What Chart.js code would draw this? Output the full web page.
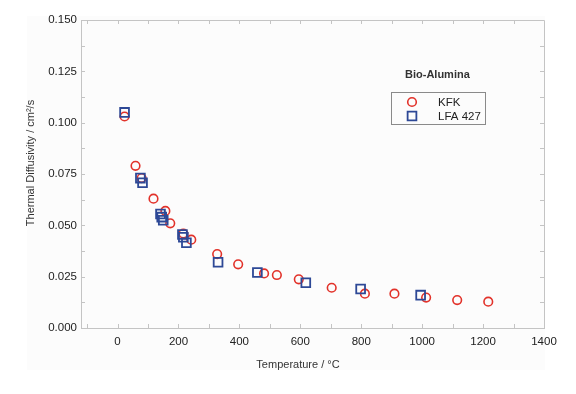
<!DOCTYPE html>
<html>
<head>
<meta charset="utf-8">
<script src="https://cdn.jsdelivr.net/npm/chart.js@4"></script>
<style>
  html, body { margin: 0; padding: 0; background: #fff; }
  canvas { display: block; }
</style>
</head>
<body>
<canvas id="chart" width="576" height="394"></canvas>
<script>
// data
var kfkTemp = [23, 59, 79, 118, 157, 173, 216, 242, 327, 396, 481, 523, 595, 703, 812, 909, 1013, 1115, 1217];
var kfkDiff = [0.103, 0.079, 0.073, 0.063, 0.057, 0.051, 0.046, 0.043, 0.036, 0.031, 0.0266, 0.0258, 0.0237, 0.0196, 0.0167, 0.0167, 0.0148, 0.0136, 0.0128];

var lfaTemp = [23, 75, 82, 141, 145, 150, 213, 216, 226, 330, 459, 618, 798, 995];
var lfaDiff = [0.105, 0.073, 0.0707, 0.0555, 0.054, 0.0525, 0.0455, 0.0442, 0.0415, 0.032, 0.027, 0.022, 0.019, 0.016];

var xTicks = [0, 200, 400, 600, 800, 1000, 1200, 1400];
var yTicks = [0, 0.025, 0.05, 0.075, 0.1, 0.125, 0.15];

var seriesNames = ['KFK', 'LFA 427'];
var legendTitle = 'Bio-Alumina';
var xTitle = 'Temperature / °C';
var yTitle = 'Thermal Diffusivity / cm²/s';

var FONT = "'Liberation Sans', Arial, Helvetica, sans-serif";
var AXIS = '#c4c4c4';
var RED = '#e2322a';
var BLUE = '#2d4896';

function toPoints(xs, ys) {
    return xs.map((x, i) => ({ x: x, y: ys[i] }));
}

// very light panel behind the plot, like the exported figure
var panelPlugin = {
    id: 'panel',
    beforeDraw(chart) {
        var ctx = chart.ctx;
        ctx.save();
        ctx.fillStyle = '#ffffff';
        ctx.fillRect(0, 0, chart.width, chart.height);
        ctx.fillStyle = '#fcfcfc';
        ctx.fillRect(27, 16, 518, 354);
        ctx.restore();
    }
};

// box + inward major/minor ticks on all four sides
var frameTicks = {
    id: 'frameTicks',
    beforeDatasetsDraw(chart) {
        var ctx = chart.ctx, a = chart.chartArea;
        var xs = chart.scales.x, ys = chart.scales.y;
        var len = 4;
        ctx.save();
        ctx.strokeStyle = AXIS;
        ctx.lineWidth = 1;
        ctx.beginPath();
        ctx.moveTo(a.left + 0.5, a.top + 0.5);
        ctx.lineTo(a.right + 0.5, a.top + 0.5);
        ctx.lineTo(a.right + 0.5, a.bottom + 0.5);
        ctx.lineTo(a.left + 0.5, a.bottom + 0.5);
        ctx.closePath();
        ctx.stroke();

        ctx.beginPath();
        for (var v = -100; v <= 1400; v += 100) {
            var px = Math.round(xs.getPixelForValue(v)) + 0.5;
            if (px <= a.left + 1 || px >= a.right - 1) continue;
            ctx.moveTo(px, a.bottom);
            ctx.lineTo(px, a.bottom - len);
            ctx.moveTo(px, a.top);
            ctx.lineTo(px, a.top + len);
        }
        for (var k = 1; k < 12; k++) {
            var py = Math.round(ys.getPixelForValue(k * 0.0125)) + 0.5;
            ctx.moveTo(a.left, py);
            ctx.lineTo(a.left + len, py);
            ctx.moveTo(a.right, py);
            ctx.lineTo(a.right - len, py);
        }
        ctx.stroke();
        ctx.restore();
    }
};

// axis titles placed where the reference has them
var axisTitles = {
    id: 'axisTitles',
    afterDraw(chart) {
        var ctx = chart.ctx;
        ctx.save();
        ctx.fillStyle = '#333';
        ctx.font = '11px ' + FONT;
        ctx.textAlign = 'center';
        ctx.textBaseline = 'middle';
        ctx.fillText(xTitle, 298, 365);
        ctx.translate(31, 163);
        ctx.rotate(-Math.PI / 2);
        ctx.fillText(yTitle, 0, 0);
        ctx.restore();
    }
};

// boxed legend with a bold heading above it
var boxLegend = {
    id: 'boxLegend',
    afterDraw(chart) {
        var ctx = chart.ctx;
        ctx.save();
        ctx.fillStyle = '#333';
        ctx.font = 'bold 11px ' + FONT;
        ctx.textAlign = 'left';
        ctx.textBaseline = 'middle';
        ctx.fillText(legendTitle, 405, 75);

        ctx.strokeStyle = '#8a8a8a';
        ctx.lineWidth = 1;
        ctx.strokeRect(391.5, 92.5, 94, 32);

        ctx.font = '11.5px ' + FONT;
        chart.data.datasets.forEach((ds, i) => {
            var y = 102 + i * 14;
            ctx.fillStyle = 'rgba(0,0,0,0)';
            ctx.strokeStyle = ds.borderColor;
            ctx.lineWidth = ds.borderWidth;
            Chart.helpers.drawPoint(ctx, {
                pointStyle: ds.pointStyle,
                radius: ds.pointRadius,
                borderWidth: ds.borderWidth,
                rotation: 0
            }, 412, y);
            ctx.fillStyle = '#222';
            ctx.fillText(ds.label, 438, y + 0.5);
        });
        ctx.restore();
    }
};

var ctx = document.getElementById('chart').getContext('2d');

new Chart(ctx, {
    type: 'scatter',
    data: {
        datasets: [{
            label: seriesNames[0],
            data: toPoints(kfkTemp, kfkDiff),
            pointStyle: 'circle',
            pointRadius: 4.3,
            borderWidth: 1.6,
            borderColor: RED,
            backgroundColor: 'rgba(0,0,0,0)',
            order: 1
        }, {
            label: seriesNames[1],
            data: toPoints(lfaTemp, lfaDiff),
            pointStyle: 'rect',
            pointRadius: 6.2,
            borderWidth: 1.8,
            borderColor: BLUE,
            backgroundColor: 'rgba(0,0,0,0)',
            order: 0
        }]
    },
    options: {
        responsive: false,
        animation: false,
        devicePixelRatio: 1,
        layout: {
            padding: { left: 0, right: 32, top: 20, bottom: 0 }
        },
        plugins: {
            legend: { display: false },
            tooltip: { enabled: false }
        },
        scales: {
            x: {
                type: 'linear',
                min: -120,
                max: 1400,
                afterBuildTicks: function (scale) {
                    scale.ticks = xTicks.map(v => ({ value: v }));
                },
                afterFit: function (scale) {
                    scale.height = 66;
                },
                grid: { display: false, drawTicks: false },
                border: { display: true, color: AXIS, width: 1 },
                ticks: {
                    padding: 7,
                    color: '#222',
                    font: { family: FONT, size: 11.5 },
                    maxRotation: 0,
                    callback: function (value) {
                        return String(value);
                    }
                },
                title: { display: false }
            },
            y: {
                type: 'linear',
                min: 0,
                max: 0.15,
                afterBuildTicks: function (scale) {
                    scale.ticks = yTicks.map(v => ({ value: v }));
                },
                afterFit: function (scale) {
                    scale.width = 81;
                },
                grid: { display: false, drawTicks: false },
                border: { display: true, color: AXIS, width: 1 },
                ticks: {
                    padding: 4,
                    color: '#222',
                    font: { family: FONT, size: 11.5 },
                    callback: function (value) {
                        return value.toFixed(3);
                    }
                },
                title: { display: false }
            }
        }
    },
    plugins: [panelPlugin, frameTicks, axisTitles, boxLegend]
});
</script>
</body>
</html>
